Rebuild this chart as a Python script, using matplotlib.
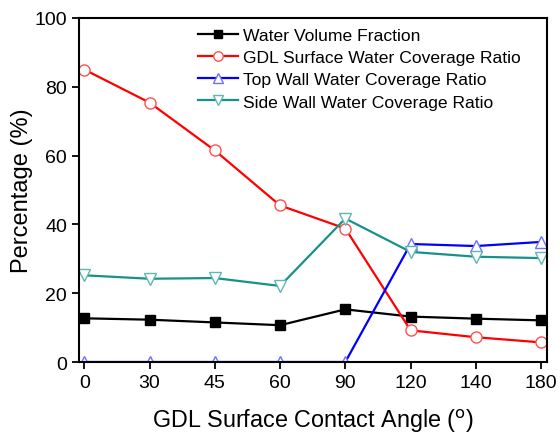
import matplotlib
matplotlib.use('Agg')
import matplotlib.pyplot as plt
import numpy as np

plt.rcParams['font.family'] = ['Liberation Sans', 'DejaVu Sans']

angles = ['0', '30', '45', '60', '90', '120', '140', '180']
water_volume = [12.7, 12.3, 11.5, 10.7, 15.3, 13.2, 12.6, 12.1]
gdl_surface = [85.0, 75.4, 61.5, 45.5, 38.8, 9.2, 7.2, 5.7]
top_wall = [0, 0, 0, 0, 0, 34.3, 33.7, 34.9]
side_wall = [25.2, 24.2, 24.4, 22.1, 41.7, 32.0, 30.6, 30.2]

x = np.arange(len(angles))

fig = plt.figure(figsize=(5.58, 4.35), dpi=100)
ax = fig.add_axes([0.1416, 0.1655, 0.8387, 0.791])

ax.plot(x, water_volume, '-s', color='black', mfc='black', ms=7, lw=1.6,
        label='Water Volume Fraction')
ax.plot(x, gdl_surface, '-o', color='red', mfc='white', mec='#ff5050', ms=8, lw=1.6,
        label='GDL Surface Water Coverage Ratio')
ax.plot(x, top_wall, '-^', color='blue', mfc='white', mec='#7070ff', ms=9, lw=1.6,
        label='Top Wall Water Coverage Ratio')
ax.plot(x, side_wall, '-v', color='#18918a', mfc='white', mec='#5fb8b0', ms=9, lw=1.6,
        label='Side Wall Water Coverage Ratio')

ax.set_xlim(-0.08, 7.09)
ax.set_ylim(0, 100)
ax.set_xticks(x)
ax.set_xticklabels(angles)
ax.set_yticks([0, 20, 40, 60, 80, 100])
ax.tick_params(labelsize=14, width=1.3, length=5, pad=3.5, direction='out',
               top=False, right=False)
for s in ax.spines.values():
    s.set_linewidth(1.5)

ax.set_xlabel('GDL Surface Contact Angle ($^{\\rm o}$)', fontsize=16.8, labelpad=11.5)
ax.set_ylabel('Percentage (%)', fontsize=17, labelpad=1)

ax.legend(loc='upper left', frameon=False, fontsize=12.6, handlelength=2.3,
          handletextpad=0.3, labelspacing=0.4, borderpad=0, borderaxespad=0,
          markerscale=0.85, bbox_to_anchor=(0.254, 0.972))

fig.savefig('out.png', dpi=100)
